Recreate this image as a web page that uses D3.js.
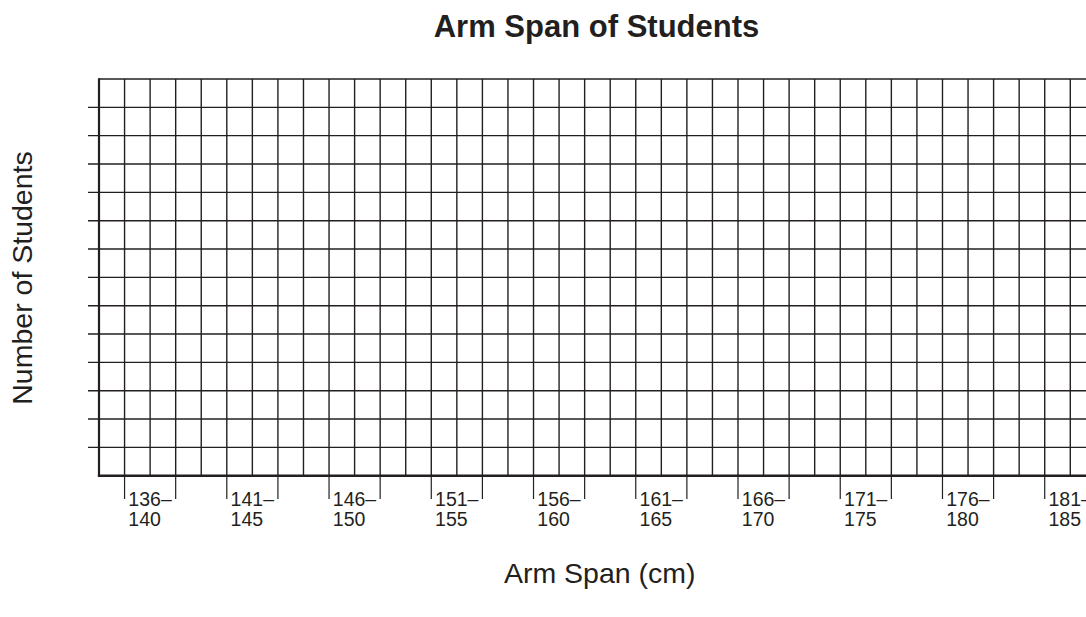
<!DOCTYPE html>
<html>
<head>
<meta charset="utf-8">
<script src="https://cdn.jsdelivr.net/npm/d3@7"></script>
<style>
  html, body { margin: 0; padding: 0; background: #fff; }
  svg { display: block; font-family: "Liberation Sans", Arial, Helvetica, sans-serif; }
</style>
</head>
<body>
<svg id="chart" width="1086" height="617"></svg>
<script>
'use strict';

// bins of the x axis (empty chart, students to be filled in)
var binLow = [136, 141, 146, 151, 156, 161, 166, 171, 176, 181];
var binHigh = [140, 145, 150, 155, 160, 165, 170, 175, 180, 185];
var countTicks = d3.range(0, 15);   // 0..14 rows
var columnCount = 39;               // grid cells across (runs off the right edge)

var titleText = 'Arm Span of Students';
var xTitle = 'Arm Span (cm)';
var yTitle = 'Number of Students';

var plotLeft = 99;
var cell = 25.56;
var plotBottom = 475.7;
var plotTop = 79;
var lineColor = '#231f20';

var svg = d3.select('#chart');

var x = d3.scaleLinear().domain([0, columnCount]).range([plotLeft, plotLeft + columnCount * cell]);
var y = d3.scaleLinear().domain([0, countTicks[countTicks.length - 1]]).range([plotBottom, plotTop]);
var maxCount = countTicks[countTicks.length - 1];

// horizontal grid lines, with little stubs left of the frame
svg.append('g').selectAll('line')
  .data(countTicks.filter(function (d) { return d > 0 && d < maxCount; }))
  .enter().append('line')
  .attr('x1', plotLeft - 11).attr('x2', 1086)
  .attr('y1', function (d) { return y(d); })
  .attr('y2', function (d) { return y(d); })
  .attr('stroke', lineColor).attr('stroke-width', 1.4);

// top edge
svg.append('line')
  .attr('x1', plotLeft).attr('x2', 1086)
  .attr('y1', y(maxCount)).attr('y2', y(maxCount))
  .attr('stroke', lineColor).attr('stroke-width', 1.4);

// vertical grid lines
svg.append('g').selectAll('line')
  .data(d3.range(1, columnCount + 1))
  .enter().append('line')
  .attr('x1', function (d) { return x(d); })
  .attr('x2', function (d) { return x(d); })
  .attr('y1', y(maxCount))
  .attr('y2', plotBottom)
  .attr('stroke', lineColor).attr('stroke-width', 1.4);

// frame: left and bottom
svg.append('line')
  .attr('x1', plotLeft).attr('x2', plotLeft)
  .attr('y1', y(maxCount) - 0.7).attr('y2', plotBottom + 1.2)
  .attr('stroke', lineColor).attr('stroke-width', 2.2);
svg.append('line')
  .attr('x1', plotLeft - 1.1).attr('x2', 1086)
  .attr('y1', plotBottom).attr('y2', plotBottom)
  .attr('stroke', lineColor).attr('stroke-width', 2.4);

// bin ticks and labels
var bins = svg.append('g').selectAll('g')
  .data(binLow.map(function (lo, i) { return { lo: lo, hi: binHigh[i], start: 1 + 4 * i, end: 3 + 4 * i }; }))
  .enter().append('g');

bins.append('line')
  .attr('x1', function (d) { return x(d.start); })
  .attr('x2', function (d) { return x(d.start); })
  .attr('y1', plotBottom).attr('y2', 499)
  .attr('stroke', lineColor).attr('stroke-width', 1.2);
bins.append('line')
  .attr('x1', function (d) { return x(d.end); })
  .attr('x2', function (d) { return x(d.end); })
  .attr('y1', plotBottom).attr('y2', 499)
  .attr('stroke', lineColor).attr('stroke-width', 1.2);
bins.append('text')
  .attr('x', function (d) { return x(d.start) + 3.8; })
  .attr('y', 506)
  .attr('font-size', 19.5).attr('fill', lineColor)
  .text(function (d) { return d.lo + '\u2013'; });
bins.append('text')
  .attr('x', function (d) { return x(d.start) + 3.8; })
  .attr('y', 526)
  .attr('font-size', 19.5).attr('fill', lineColor)
  .text(function (d) { return d.hi; });

// titles
svg.append('text')
  .attr('x', 596.5).attr('y', 36.7)
  .attr('text-anchor', 'middle')
  .attr('font-size', 31).attr('font-weight', 'bold').attr('fill', lineColor)
  .text(titleText);

svg.append('text')
  .attr('x', 599.7).attr('y', 583)
  .attr('text-anchor', 'middle')
  .attr('font-size', 28.5).attr('fill', lineColor)
  .text(xTitle);

svg.append('text')
  .attr('transform', 'translate(32,278) rotate(-90)')
  .attr('text-anchor', 'middle')
  .attr('font-size', 28.5).attr('fill', lineColor)
  .text(yTitle);
</script>
</body>
</html>
